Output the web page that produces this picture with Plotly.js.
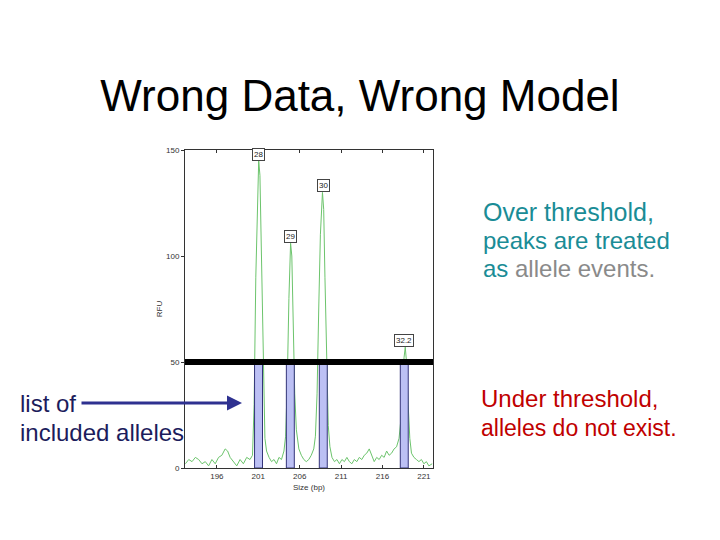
<!DOCTYPE html>
<html>
<head>
<meta charset="utf-8">
<script src="https://cdn.plot.ly/plotly-3.0.1.min.js"></script>
<style>html,body{margin:0;padding:0;background:#fff;}#chart{width:720px;height:540px;}</style>
</head>
<body>
<div id="chart"></div>
<script>
// ---- data ----
const sizeBp = [192.2,192.6,193.0,193.4,193.8,194.2,194.6,195.0,195.4,195.8,196.2,196.6,197.0,197.3,197.6,198.0,198.4,198.8,199.2,199.6,200.0,200.3,200.5,200.7,200.9,201.05,201.2,201.4,201.6,201.8,202.0,202.3,202.6,202.9,203.2,203.5,203.8,204.1,204.3,204.5,204.7,204.9,205.05,205.2,205.4,205.6,205.9,206.2,206.5,206.8,207.1,207.4,207.7,207.9,208.1,208.3,208.5,208.75,208.9,209.05,209.25,209.45,209.65,209.9,210.2,210.5,210.8,211.1,211.4,211.7,212.0,212.3,212.6,212.9,213.2,213.5,213.8,214.1,214.4,214.7,215.0,215.3,215.6,215.9,216.2,216.5,216.8,217.1,217.4,217.7,218.0,218.2,218.4,218.6,218.75,218.9,219.1,219.3,219.5,219.8,220.1,220.4,220.7,221.0,221.3,221.6,222.0];
const rfu = [2,4,3,5,4,2,3,1,4,2,5,6,9,8,5,3,1,4,2,5,4,6,30,90,130,145,138,95,40,14,8,5,3,4,2,5,4,8,15,40,80,106,100,70,35,18,9,6,4,3,4,6,9,15,35,75,110,130,122,90,45,20,10,5,3,4,2,4,3,5,3,2,4,3,5,4,6,7,9,6,3,5,4,6,5,8,6,7,9,10,14,22,38,52,57,50,30,14,7,5,4,3,4,2,3,1,2];
const alleleSize = [201.03, 204.87, 208.85, 218.63];
const alleleLabels = ['28', '29', '30', '32.2'];
const peakHeight = [145, 106, 130, 57];
const threshold = 50;
const xTickVals = [196, 201, 206, 211, 216, 221];
const xTickText = ['196', '201', '206', '211', '216', '221'];
const yTickVals = [0, 50, 100, 150];
const xRange = [192.15, 222.1];
const yRange = [0, 150];

// ---- layout helpers ----
const W = 720, H = 540;
const L = 185, R = 433, T = 150, B = 468;
const px = x => (x - L) / (R - L);
const py = y => (B - y) / (B - T);
const FONT = 'Liberation Sans, Arial, sans-serif';

const trace = {
  x: sizeBp, y: rfu, type: 'scatter', mode: 'lines',
  line: {color: '#6cc46c', width: 1}, hoverinfo: 'skip', showlegend: false
};

const barHalf = 0.48;
const shapes = alleleSize.map(s => ({
  type: 'rect', xref: 'x', yref: 'y', layer: 'above',
  x0: s - barHalf, x1: s + barHalf, y0: 0, y1: threshold,
  fillcolor: '#bcc0f4', line: {color: '#34347a', width: 1}
}));
shapes.push({
  type: 'line', xref: 'paper', yref: 'y', layer: 'above',
  x0: 0, x1: 1, y0: threshold, y1: threshold,
  line: {color: '#000', width: 6}
});

const annotations = alleleLabels.map((t, i) => ({
  x: alleleSize[i], y: peakHeight[i], xref: 'x', yref: 'y',
  text: t, showarrow: false, yanchor: 'bottom', xanchor: 'center',
  font: {family: FONT, size: 8, color: '#222'},
  bgcolor: '#fff', bordercolor: '#444', borderwidth: 1, borderpad: 1
}));

function txt(text, xPix, yPix, color, size) {
  return {
    xref: 'paper', yref: 'paper', x: px(xPix), y: py(yPix),
    xanchor: 'left', yanchor: 'middle', showarrow: false,
    text: text, font: {family: FONT, size: size || 24, color: color}
  };
}
const TEAL = '#1a8c96', GREY = '#8a8a8a', RED = '#c00000', NAVY = '#1c1c5c';
annotations.push(txt('Over threshold,', 481, 212, TEAL, 25));
annotations.push(txt('peaks are treated', 481, 240, TEAL));
annotations.push(txt('as <span style="color:' + GREY + '">allele events.</span>', 481, 268, TEAL));
annotations.push(txt('Under threshold,', 479, 398, RED));
annotations.push(txt('alleles do not exist.', 479, 428, RED, 23));
annotations.push(txt('list of', 18, 403, NAVY));
annotations.push(txt('included alleles', 18, 432, NAVY));
// arrow
annotations.push({
  xref: 'paper', yref: 'paper', x: px(242), y: py(403),
  axref: 'pixel', ayref: 'pixel', ax: -162, ay: 0,
  text: '', showarrow: true, arrowhead: 2, arrowsize: 1, arrowwidth: 3,
  arrowcolor: '#2e3190', standoff: 0
});

const layout = {
  width: W, height: H, autosize: false,
  paper_bgcolor: '#fff', plot_bgcolor: '#fff',
  margin: {l: L, r: W - R, t: T, b: H - B, pad: 0},
  showlegend: false,
  title: {
    text: 'Wrong Data, Wrong Model', xref: 'container', yref: 'container',
    x: 0.5, xanchor: 'center', y: 1 - 96 / H, yanchor: 'middle',
    font: {family: FONT, size: 44, color: '#000'}
  },
  xaxis: {
    range: xRange, tickvals: xTickVals, ticktext: xTickText,
    showgrid: false, zeroline: false, showline: true, linecolor: '#333', linewidth: 1,
    mirror: 'ticks', ticks: 'inside', ticklen: 3, tickcolor: '#333',
    tickfont: {family: FONT, size: 8, color: '#333'},
    title: {text: 'Size (bp)', font: {family: FONT, size: 8, color: '#333'}, standoff: 4}
  },
  yaxis: {
    range: yRange, tickvals: yTickVals,
    showgrid: false, zeroline: false, showline: true, linecolor: '#333', linewidth: 1,
    mirror: true, ticks: 'outside', ticklen: 3, tickcolor: '#333',
    tickfont: {family: FONT, size: 8, color: '#333'},
    title: {text: 'RFU', font: {family: FONT, size: 8, color: '#333'}, standoff: 2}
  },
  shapes: shapes,
  annotations: annotations
};

Plotly.newPlot('chart', [trace], layout, {staticPlot: true, displayModeBar: false});
</script>
</body>
</html>
